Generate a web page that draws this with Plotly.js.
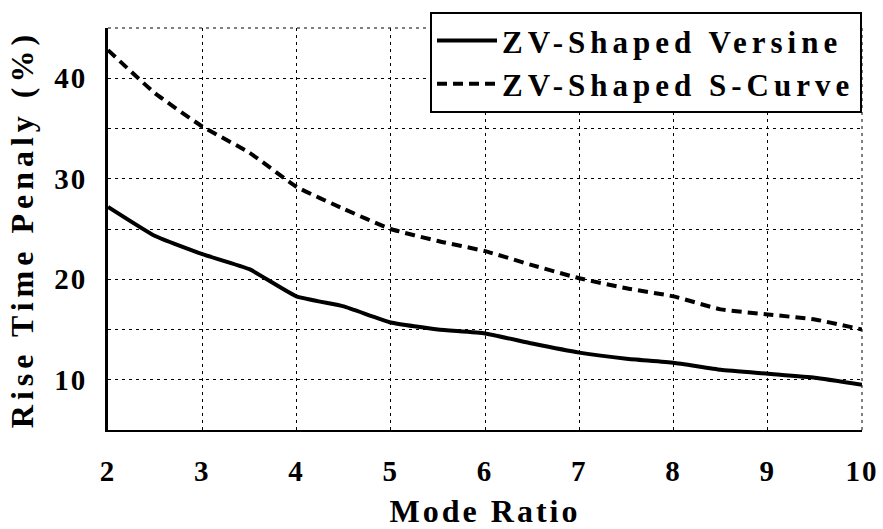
<!DOCTYPE html>
<html>
<head>
<meta charset="utf-8">
<script src="https://cdn.plot.ly/plotly-3.0.1.min.js"></script>
<style>
  html, body { margin: 0; padding: 0; background: #fff; }
  #chart { width: 883px; height: 529px; }
  .legendtext { letter-spacing: 5px; }
  .xtitle { letter-spacing: 3px; }
  .ytitle { letter-spacing: 5px; }
  .xtick text, .ytick text { letter-spacing: 2px; }
</style>
</head>
<body>
<div id="chart"></div>
<script>
// Mode ratio (x)
const modeRatio = [2, 2.5, 3, 3.5, 4, 4.5, 5, 5.5, 6, 6.5, 7, 7.5, 8, 8.5, 9, 9.5, 10];
// Rise time penalty (%) for each shaper
const versine = [27.2, 24.3, 22.5, 21.0, 18.3, 17.3, 15.7, 15.0, 14.6, 13.6, 12.7, 12.1, 11.7, 11.0, 10.6, 10.2, 9.5];
const sCurve  = [42.8, 38.5, 35.2, 32.6, 29.2, 27.0, 25.0, 23.8, 22.8, 21.4, 20.1, 19.1, 18.3, 17.0, 16.5, 16.0, 15.0];
const seriesNames = ['ZV-Shaped Versine', 'ZV-Shaped S-Curve'];
const xTicks = [2, 3, 4, 5, 6, 7, 8, 9, 10];
const yTicks = [10, 20, 30, 40];

const FONT = 'Liberation Serif';

const traces = [
  { x: modeRatio, y: versine, name: seriesNames[0], mode: 'lines',
    line: { color: '#000', width: 4, shape: 'spline', smoothing: 0.4 } },
  { x: modeRatio, y: sCurve, name: seriesNames[1], mode: 'lines',
    line: { color: '#000', width: 4, dash: '10px,6px', shape: 'spline', smoothing: 0.4 } }
];

const gridDash = '3px,4px';
const layout = {
  width: 883, height: 529,
  margin: { l: 108, r: 21, t: 24, b: 99 },
  paper_bgcolor: '#fff', plot_bgcolor: '#fff',
  font: { family: FONT, color: '#000', weight: 'bold' },
  showlegend: true,
  legend: {
    x: 1, xanchor: 'right', y: 1.04, yanchor: 'top',
    bgcolor: '#fff', bordercolor: '#000', borderwidth: 2,
    font: { family: FONT, size: 31, color: '#000', weight: 'bold' },
    itemwidth: 60, tracegroupgap: 0
  },
  xaxis: {
    range: [2, 10], tickvals: xTicks, ticks: '',
    showline: true, linecolor: '#000', linewidth: 2, mirror: false,
    showgrid: true, gridcolor: '#000', gridwidth: 1, griddash: gridDash,
    zeroline: false,
    tickfont: { family: FONT, size: 29, color: '#000', weight: 'bold' },
    ticklabelstandoff: 14,
    title: { text: 'Mode Ratio', standoff: 18,
      font: { family: FONT, size: 32, color: '#000', weight: 'bold' } }
  },
  yaxis: {
    range: [5, 45], tickvals: yTicks, ticks: '',
    showline: true, linecolor: '#000', linewidth: 3, mirror: false,
    showgrid: true, gridcolor: '#000', gridwidth: 1, griddash: gridDash,
    minor: { dtick: 5, tick0: 0, showgrid: true, gridcolor: '#000', gridwidth: 1, griddash: gridDash, ticks: '' },
    zeroline: false,
    tickfont: { family: FONT, size: 29, color: '#000', weight: 'bold' },
    ticklabelstandoff: 12,
    title: { text: 'Rise Time Penaly (%)', standoff: 12,
      font: { family: FONT, size: 32, color: '#000', weight: 'bold' } }
  },
  shapes: [
    { type: 'line', xref: 'paper', yref: 'paper', x0: 0, x1: 1, y0: 1, y1: 1,
      line: { color: '#000', width: 1, dash: gridDash } },
    { type: 'line', xref: 'paper', yref: 'paper', x0: 1, x1: 1, y0: 0, y1: 1,
      line: { color: '#000', width: 1, dash: gridDash } }
  ]
};

Plotly.newPlot('chart', traces, layout, { displayModeBar: false, staticPlot: true });
</script>
</body>
</html>
